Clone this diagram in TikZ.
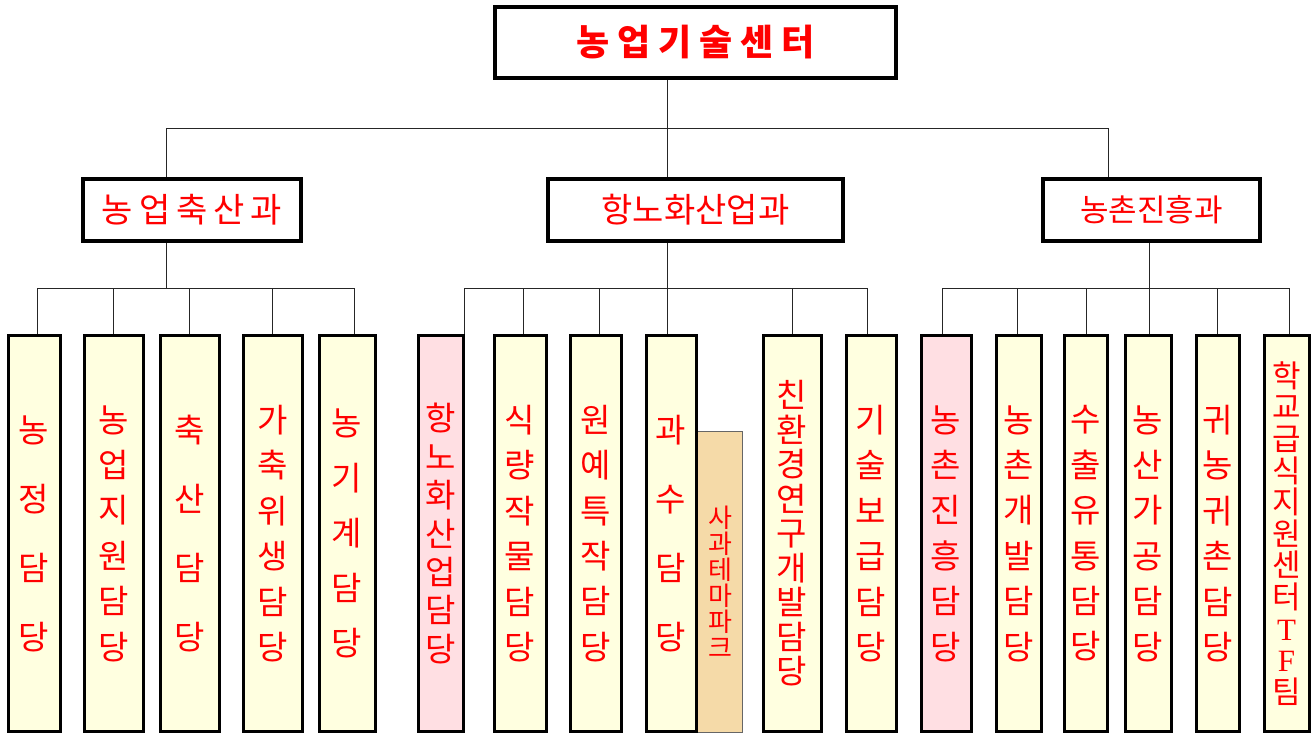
\documentclass[tikz,border=0pt]{standalone}
\usepackage{fontspec}
\newfontfamily\kr{Noto Sans CJK KR}
\newfontfamily\latin{Liberation Serif}
\definecolor{leafyellow}{HTML}{FFFFE0}
\definecolor{leafpink}{HTML}{FFDFE3}
\definecolor{parktan}{HTML}{F5DAA8}
\newcommand\leafsize[1]{\kr\fontsize{16.5pt}{#1}\selectfont}

\tikzset{
  headbox/.style={draw, line width=2pt, fill=white, inner sep=0pt, text=red},
  deptbox/.style={draw, line width=1.75pt, fill=white, inner sep=0pt, minimum height=31pt, text=red},
  leaf/.style={draw, line width=1.5pt, fill=leafyellow, minimum height=198pt, inner sep=0pt, align=center, text=red},
  conn/.style={line width=0.5pt, black!85},
}

\begin{document}
\begin{tikzpicture}[x=0.5pt, y=-0.5pt]
    \useasboundingbox (0,0) rectangle (1314,735);

    % 센터
    \node[headbox, minimum width=200.5pt, minimum height=35.5pt, font=\kr\bfseries\fontsize{18pt}{20pt}\selectfont] (hq) at (695.5,42.5)
        {농\hspace{3.9pt}업\hspace{3.9pt}기\hspace{3.9pt}술\hspace{3.9pt}센\hspace{3.9pt}터};

    % 과
    \node[deptbox, minimum width=109pt, font=\kr\fontsize{17pt}{20pt}\selectfont] (dA) at (192,210)
        {농\hspace{3pt}업\hspace{3pt}축\hspace{3pt}산\hspace{3pt}과};
    \node[deptbox, minimum width=147.5pt, font=\kr\fontsize{17pt}{20pt}\selectfont] (dB) at (695.5,210) {항노화산업과};
    \node[deptbox, minimum width=108.5pt, font=\kr\fontsize{15.5pt}{18pt}\selectfont] (dC) at (1151.5,210) {농촌진흥과};

    % 담당 (농업축산과)
    \node[leaf, minimum width=26pt, font=\leafsize{34.5pt}] (a1) at (34,533.5) {농\\정\\담\\당};
    \node[leaf, minimum width=29.5pt, font=\leafsize{22.7pt}] (a2) at (113.5,533.5) {농\\업\\지\\원\\담\\당};
    \node[leaf, minimum width=29.5pt, font=\leafsize{34.5pt}] (a3) at (189.5,533.5) {축\\산\\담\\당};
    \node[leaf, minimum width=29.5pt, font=\leafsize{22.7pt}] (a4) at (272.5,533.5) {가\\축\\위\\생\\담\\당};
    \node[leaf, minimum width=28pt, font=\leafsize{27.5pt}] (a5) at (347,533.5) {농\\기\\계\\담\\당};

    % 담당 (항노화산업과)
    \node[leaf, fill=leafpink, minimum width=22.5pt, font=\leafsize{19.2pt}] (b1) at (440.5,533.5) {항\\노\\화\\산\\업\\담\\당};
    \node[leaf, minimum width=26pt, font=\leafsize{22.7pt}] (b2) at (520,533.5) {식\\량\\작\\물\\담\\당};
    \node[leaf, minimum width=25.5pt, font=\leafsize{22.7pt}] (b3) at (595.5,533.5) {원\\예\\특\\작\\담\\당};
    \node[draw=black!60, line width=0.6pt, fill=parktan, minimum width=22.5pt, minimum height=150.5pt, inner sep=0pt,
          align=center, text=red, font=\kr\fontsize{13pt}{13pt}\selectfont] (park) at (720,582) {사\\과\\테\\마\\파\\크};
    \node[leaf, minimum width=25pt, font=\leafsize{34.5pt}] (b4) at (671,533.5) {과\\수\\담\\당};
    \node[leaf, minimum width=29pt, font=\leafsize{17.25pt}] (b6) at (792,533.5) {친\\환\\경\\연\\구\\개\\발\\담\\당};
    \node[leaf, minimum width=25pt, font=\leafsize{22.7pt}] (b7) at (871,533.5) {기\\술\\보\\급\\담\\당};

    % 담당 (농촌진흥과)
    \node[leaf, fill=leafpink, minimum width=25pt, font=\leafsize{22.7pt}] (c1) at (946,533.5) {농\\촌\\진\\흥\\담\\당};
    \node[leaf, minimum width=22.5pt, font=\leafsize{22.7pt}] (c2) at (1018.5,533.5) {농\\촌\\개\\발\\담\\당};
    \node[leaf, minimum width=21.5pt, font=\leafsize{22.7pt}] (c3) at (1085.5,533.5) {수\\출\\유\\통\\담\\당};
    \node[leaf, minimum width=23pt, font=\leafsize{22.7pt}] (c4) at (1148,533.5) {농\\산\\가\\공\\담\\당};
    \node[leaf, minimum width=21.5pt, font=\leafsize{22.7pt}] (c5) at (1217.5,533.5) {귀\\농\\귀\\촌\\담\\당};
    \node[leaf, minimum width=22.5pt, font=\kr\fontsize{15.5pt}{15.8pt}\selectfont] (c6) at (1286.5,533.5)
        {학\\교\\급\\식\\지\\원\\센\\터\\{\latin T}\\{\latin F}\\팀};

    % 선 (센터 - 과)
    \coordinate (j0) at (667,128);
    \coordinate (jA) at (166,128);
    \coordinate (jC) at (1108,128);
    \draw[conn] (hq.south -| j0) -- (j0);
    \draw[conn] (jA) -- (jC);
    \foreach \d/\j in {dA/jA, dB/j0, dC/jC}
        \draw[conn] (\j) -- (\j |- \d.north);

    % 선 (과 - 담당)
    \coordinate (sA) at (166,288);
    \coordinate (sB) at (667,288);
    \coordinate (sC) at (1149,288);
    \foreach \d/\s in {dA/sA, dB/sB, dC/sC}
        \draw[conn] (\d.south -| \s) -- (\s);
    \foreach \n/\x in {a1/37, a2/113, a3/189, a4/272, a5/354,
                       b1/464, b2/523, b3/599, b4/667, b6/792, b7/867,
                       c1/942, c2/1017, c3/1086, c4/1149, c5/1217, c6/1289} {
        \coordinate (k\n) at (\x,288);
        \draw[conn] (k\n) -- (k\n |- \n.north);
    }
    \draw[conn] (ka1) -- (ka5);
    \draw[conn] (kb1) -- (kb7);
    \draw[conn] (kc1) -- (kc6);

\end{tikzpicture}
\end{document}
